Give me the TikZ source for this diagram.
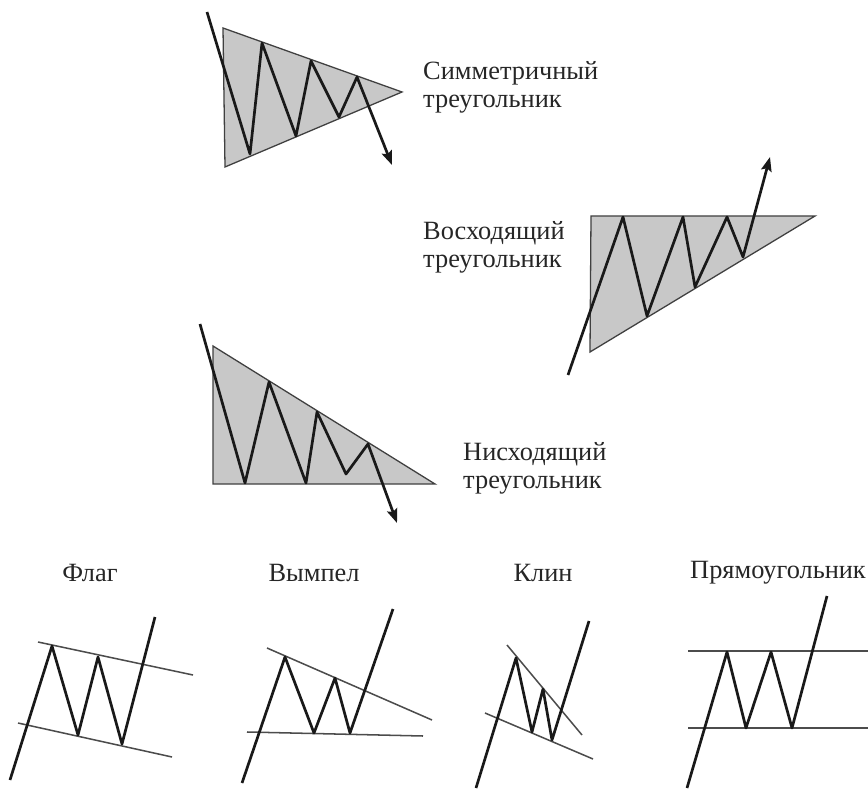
\documentclass[tikz,border=0pt]{standalone}
\usepackage{fontspec}
\setmainfont{Liberation Serif}
\usetikzlibrary{arrows.meta, positioning}
\definecolor{trifill}{RGB}{200,200,200}

\begin{document}
\begin{tikzpicture}[
        x=0.03cm, y=-0.03cm, % pixel grid of the page
        % styles
        tri/.style={fill=trifill, draw=black!75, line width=1.1pt},
        zig/.style={draw=black!90, line width=2.3pt, line join=round},
        brk/.style={zig, -{Stealth[length=12pt, width=9pt, inset=2pt]}},
        trend/.style={draw=black!70, line width=1.3pt},
        lbl/.style={font=\fontsize{22.5}{24}\selectfont, text=black!85, align=left, inner sep=0pt, anchor=west},
        title/.style={font=\fontsize{22.5}{24}\selectfont, text=black!85, inner sep=0pt} ]

    \useasboundingbox (0,0) rectangle (868,791);

    % --- SYMMETRIC TRIANGLE ---
    \draw [tri] (223,28) -- (402,92) -- (225,167) -- cycle;
    \draw [brk] (207,12) -- (250,154) -- (262,43) -- (296,136) -- (311,61) -- (339,117) -- (357,77) -- (392,165);
    \node (sym) [lbl] at (423,87) {Симметричный\\треугольник};

    % --- ASCENDING TRIANGLE ---
    \draw [tri] (591,216) -- (815,216) -- (590,352) -- cycle;
    \draw [brk] (568,375) -- (623,217) -- (647,316) -- (683,217) -- (695,287) -- (727,217) -- (743,257) -- (770,157);
    \node (asc) [lbl] at (423,247) {Восходящий\\треугольник};

    % --- DESCENDING TRIANGLE ---
    \draw [tri] (213,346) -- (435,484) -- (213,484) -- cycle;
    \draw [brk] (200,324) -- (245,483) -- (269,382) -- (306,483) -- (317,412) -- (346,474) -- (368,444) -- (397,523);
    \node (desc) [lbl] at (463,468) {Нисходящий\\треугольник};

    % --- BOTTOM ROW: continuation patterns ---
    \node (flag) [title] at (90,573) {Флаг};
    \node (pennant) [title] at (314,573) {Вымпел};
    \node (wedge) [title] at (543,573) {Клин};
    \node (rect) [title] at (778,573) {Прямоугольник};

    % flag
    \draw [trend] (38,642) -- (193,675);
    \draw [trend] (18,723) -- (172,757);
    \draw [zig] (10,780) -- (52,646) -- (78,735) -- (98,657) -- (122,744) -- (155,617);

    % pennant
    \draw [trend] (267,648) -- (432,720);
    \draw [trend] (247,732) -- (423,736);
    \draw [zig] (242,783) -- (285,657) -- (314,733) -- (335,678) -- (350,733) -- (393,609);

    % wedge
    \draw [trend] (507,645) -- (582,735);
    \draw [trend] (485,713) -- (593,759);
    \draw [zig] (476,788) -- (516,658) -- (532,732) -- (543,689) -- (552,740) -- (589,621);

    % rectangle
    \draw [trend] (688,651) -- (868,651);
    \draw [trend] (688,728) -- (868,728);
    \draw [zig] (687,788) -- (727,652) -- (746,728) -- (771,652) -- (792,728) -- (827,596);

\end{tikzpicture}
\end{document}
